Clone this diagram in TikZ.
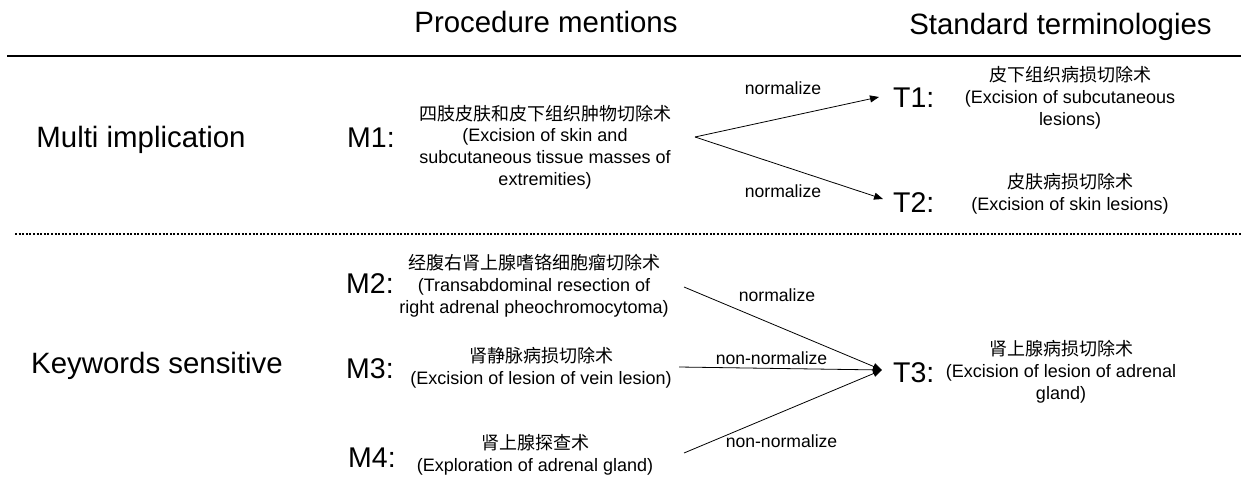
\documentclass[tikz,border=0pt]{standalone}
\usepackage{fontspec}
\setmainfont{Liberation Sans}
\newfontfamily\cjk{Noto Sans CJK SC}
\usetikzlibrary{arrows.meta}
\begin{document}
\begin{tikzpicture}[x=1pt,y=-1pt,
  hdr/.style={font=\fontsize{29.4}{34}\selectfont, inner sep=0pt, anchor=base},
  mlab/.style={font=\fontsize{28.5}{34}\selectfont, inner sep=0pt, anchor=base west},
  desc/.style={font=\fontsize{18}{21.6}\selectfont, align=center, inner sep=0pt, anchor=base},
  rel/.style={font=\fontsize{17.6}{21}\selectfont, inner sep=0pt, anchor=base},
  conn/.style={line width=0.8pt, -{Triangle[length=9pt,width=7pt]}}
]
\useasboundingbox (0,0) rectangle (1241,495);
% headers
\node[hdr] (hpm) at (546,33) {Procedure mentions};
\node[hdr] (hst) at (1060.5,35) {Standard terminologies};
\draw[line width=2.7pt] (7,56) coordinate (la) -- (1241,56) coordinate (lb);
\draw[line width=2pt, dash pattern=on 2pt off 1.6pt] (15,234) coordinate (da) -- (1241,234) coordinate (db);
% categories
\node[hdr] (cmi) at (141,147) {Multi implication};
\node[hdr] (cks) at (157,373) {Keywords sensitive};
% mention labels
\node[mlab] (m1) at (347,147) {M1:};
\node[mlab] (m2) at (346,293) {M2:};
\node[mlab] (m3) at (346,378) {M3:};
\node[mlab] (m4) at (348,467) {M4:};
% mention texts (anchored at the baseline of the last line)
\node[desc] (m1t) at (545,185) {{\cjk 四肢皮肤和皮下组织肿物切除术}\\(Excision of skin and\\subcutaneous tissue masses of\\extremities)};
\node[desc] (m2t) at (534,313) {{\cjk 经腹右肾上腺嗜铬细胞瘤切除术}\\(Transabdominal resection of\\right adrenal pheochromocytoma)};
\node[desc] (m3t) at (541,384) {{\cjk 肾静脉病损切除术}\\(Excision of lesion of vein lesion)};
\node[desc] (m4t) at (535,471) {{\cjk 肾上腺探查术}\\(Exploration of adrenal gland)};
% terminology labels
\node[mlab] (t1) at (893,107) {T1:};
\node[mlab] (t2) at (893,212) {T2:};
\node[mlab] (t3) at (893,382) {T3:};
% terminology texts
\node[desc] (t1t) at (1070,125) {{\cjk 皮下组织病损切除术}\\(Excision of subcutaneous\\lesions)};
\node[desc] (t2t) at (1070,210) {{\cjk 皮肤病损切除术}\\(Excision of skin lesions)};
\node[desc] (t3t) at (1061,399) {{\cjk 肾上腺病损切除术}\\(Excision of lesion of adrenal\\gland)};
% connector ends
\coordinate (f1) at (695,137);
\coordinate (t1tip) at (879,97);
\coordinate (t2tip) at (883,199);
\coordinate (s2) at (684,287);
\coordinate (s3) at (679,367);
\coordinate (s4) at (684,453);
\coordinate (t3tip) at (882,370);
\draw[conn] (f1) -- (t1tip);
\draw[conn] (f1) -- (t2tip);
\draw[conn] (s2) -- (t3tip);
\draw[conn] (s3) -- (t3tip);
\draw[conn] (s4) -- (t3tip);
% relation labels
\node[rel] (r1) at (783,94) {normalize};
\node[rel] (r2) at (783,197) {normalize};
\node[rel] (r3) at (777,301) {normalize};
\node[rel] (r4) at (771.5,364) {non-normalize};
\node[rel] (r5) at (781.5,447) {non-normalize};
\end{tikzpicture}
\end{document}
